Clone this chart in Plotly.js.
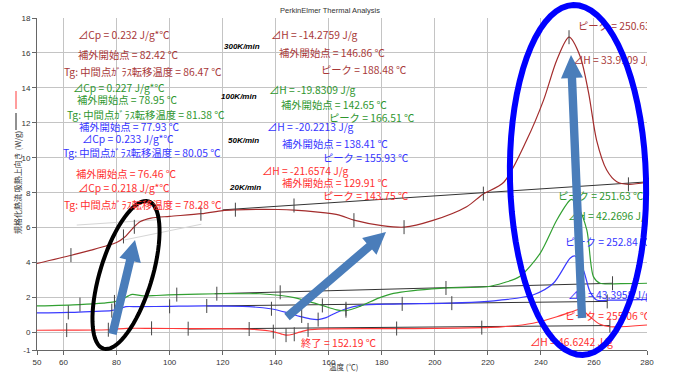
<!DOCTYPE html>
<html>
<head>
<meta charset="utf-8">
<script src="https://cdn.plot.ly/plotly-3.0.1.min.js"></script>
<style>html,body{margin:0;padding:0;background:#fff;}#chart{width:680px;height:373px;}</style>
</head>
<body>
<div id="chart"></div>
<script>
// ---------- data (temperature °C, normalized heat flow W/g) ----------
const brownT = [50, 63, 70, 76, 80, 83, 86, 89, 93, 100, 112, 120, 125, 135, 141, 147, 155, 164, 169.5, 180, 188.5, 199, 212, 218, 226, 234.6, 241, 246, 250.6, 254.8, 258, 261, 264.8, 268.6, 273, 280];
const brownV = [3.95, 4.42, 4.7, 4.95, 5.15, 5.45, 5.95, 6.35, 6.55, 6.65, 6.8, 6.98, 7.02, 7.05, 7.04, 7.0, 6.9, 6.72, 6.43, 6.12, 6.03, 6.4, 7.2, 7.9, 8.6, 11.0, 13.3, 15.6, 16.9, 15.8, 13.7, 11.0, 9.3, 8.63, 8.48, 8.6];
const greenT = [50, 66, 75, 79, 82, 84.5, 86, 90, 95, 103, 118, 130, 134, 142, 147, 152, 157.5, 163, 166.5, 171.8, 179, 184.4, 202, 219.6, 226, 232, 239.7, 246, 251, 251.6, 254, 257.3, 259.8, 262.3, 270, 280];
const greenV = [1.52, 1.6, 1.68, 1.75, 1.9, 2.1, 2.18, 2.1, 2.12, 2.17, 2.22, 2.22, 2.22, 2.12, 2.0, 1.8, 1.55, 1.3, 1.25, 1.5, 1.98, 2.24, 2.53, 2.62, 2.85, 3.2, 4.53, 6.44, 7.58, 7.62, 7.2, 5.87, 3.2, 2.82, 2.8, 2.82];
const blueT = [50, 62, 70, 78, 81, 83.5, 88, 100, 114, 130, 138, 144, 149, 153, 156, 159, 161, 163, 166.5, 172, 184, 206, 220, 224.6, 237, 244.7, 251, 252.8, 256, 258.5, 261, 266, 280];
const blueV = [1.12, 1.15, 1.2, 1.25, 1.35, 1.48, 1.48, 1.5, 1.52, 1.48, 1.36, 1.15, 0.92, 0.78, 0.74, 0.85, 1.0, 1.15, 1.36, 1.55, 1.63, 1.68, 1.78, 1.85, 2.15, 2.82, 4.25, 4.38, 3.58, 2.34, 1.86, 1.85, 1.9];
const redT = [50, 61, 77, 80, 84, 93, 107, 130, 136, 139, 142, 144, 146.5, 149, 152.2, 156, 186, 200, 217.7, 225, 237, 246, 253.5, 255, 258.5, 262.3, 266, 280];
const redV = [0.13, 0.14, 0.16, 0.2, 0.24, 0.24, 0.22, 0.2, 0.12, 0.05, -0.08, -0.15, -0.1, 0.02, 0.15, 0.2, 0.22, 0.24, 0.28, 0.32, 0.53, 0.9, 1.29, 1.35, 0.9, 0.47, 0.33, 0.43];

// baselines (black) and tangent lines (light gray)
const baseBrownT = [120, 280], baseBrownV = [7.02, 8.62];
const baseGreenT = [117, 267], baseGreenV = [2.22, 2.82];
const baseBlueT = [114, 265], baseBlueV = [1.52, 1.78];
const baseRedT = [107, 266], baseRedV = [0.2, 0.4];
const tanAT = [65, 95], tanAV = [6.15, 6.45];
const tanBT = [83, 112], tanBV = [5.3, 6.2];

// event markers
const mkBrownT = [62.8, 82.6, 86.7, 111.8, 124.8, 146.9, 169.5, 188.4, 218.3, 250.6, 273.0];
const mkBrownV = [4.43, 5.5, 6.05, 6.8, 7.03, 7.27, 6.43, 6.03, 7.95, 16.9, 8.48];
const mkGreenT = [66.2, 79.2, 102.7, 117.8, 141.7, 157.6, 166.5, 204.2, 267.0];
const mkGreenV = [1.6, 1.75, 2.17, 2.22, 2.3, 1.55, 1.25, 2.55, 2.82];
const mkBlueT = [61.8, 78.2, 100.0, 114.0, 138.4, 149.8, 156.0, 166.5, 187.7, 206.4, 265.0];
const mkBlueV = [1.15, 1.25, 1.5, 1.52, 1.36, 0.95, 0.74, 1.36, 1.64, 1.68, 1.78];
const mkRedT = [61.2, 76.9, 93.2, 107.0, 130.0, 139.1, 143.9, 147.0, 152.2, 185.6, 217.7, 266.0];
const mkRedV = [0.14, 0.16, 0.24, 0.22, 0.2, 0.05, -0.15, -0.1, 0.15, 0.23, 0.28, 0.4];

// tick labels
const xTicks = [50, 60, 80, 100, 120, 140, 160, 180, 200, 220, 240, 260, 280];
const yTicks = [-1, 0, 2, 4, 6, 8, 10, 12, 14, 16, 18];

// ---------- styling / geometry ----------
const C = {brown: '#a32c2c', green: '#32a032', blue: '#3a3aff', red: '#ff3838',
           tBrown: '#a83838', tGreen: '#2e962e', tBlue: '#3535ff', tRed: '#ff3030'};
const L = 37, R = 647, TOP = 18, BOT = 350;
const X0 = 50, X1 = 280, Y0 = -1, Y1 = 18;
const dx = px => X0 + (px - L) / (R - L) * (X1 - X0);
const dy = py => Y1 - (py - TOP) / (BOT - TOP) * (Y1 - Y0);
const paperX = px => (px - L) / (R - L);
const paperY = py => (BOT - py) / (BOT - TOP);
const JP = '"Noto Sans CJK JP", "Noto Sans", sans-serif';
const FS = 10.3;

const traces = [];
function line(x, y, color, width, spline) {
  traces.push({x, y, type: 'scatter', mode: 'lines', hoverinfo: 'skip',
    line: {color, width, shape: spline ? 'spline' : 'linear', smoothing: 0.8}});
}
line(tanAT, tanAV, '#d6d6d6', 1, false);
line(tanBT, tanBV, '#d6d6d6', 1, false);
line(baseRedT, baseRedV, '#333', 1, false);
line(baseBlueT, baseBlueV, '#333', 1, false);
line(baseGreenT, baseGreenV, '#333', 1, false);
line(baseBrownT, baseBrownV, '#333', 1, false);
line(redT, redV, C.red, 1.2, true);
line(blueT, blueV, C.blue, 1.2, true);
line(greenT, greenV, C.green, 1.2, true);
line(brownT, brownV, C.brown, 1.2, true);
[[mkBrownT, mkBrownV], [mkGreenT, mkGreenV], [mkBlueT, mkBlueV], [mkRedT, mkRedV]].forEach(([x, y]) => {
  traces.push({x, y, type: 'scatter', mode: 'markers', hoverinfo: 'skip',
    marker: {symbol: 'line-ns-open', size: 10, color: '#444', line: {color: '#444', width: 1}}});
});

// clipped labels at the right edge (drawn as text inside the plot so they are clipped)
const edgeLabels = [
  ['ピーク = 250.63 ℃', 578, 27, C.tBrown],
  ['⊿H = 33.9109 J/g', 573, 61, C.tBrown],
  ['ピーク = 251.63 ℃', 558, 197, C.tGreen],
  ['⊿H = 42.2696 J/g', 568, 217, C.tGreen],
  ['ピーク = 252.84 ℃', 565, 243, C.tBlue],
  ['⊿H = 43.3958 J/g', 568, 296, C.tBlue],
  ['ピーク = 255.06 ℃', 565, 317, C.tRed],
  ['⊿H = 46.6242 J/g', 530, 343, C.tRed]
];
edgeLabels.forEach(([t, px, py, col]) => {
  traces.push({x: [dx(px)], y: [dy(py)], text: [t], type: 'scatter', mode: 'text',
    textposition: 'middle right', cliponaxis: true, hoverinfo: 'skip',
    textfont: {family: JP, size: FS, color: col}});
});

// annotations (left anchored, pixel positions converted to paper coords)
const labels = [
  ['⊿Cp = 0.232 J/g*℃', 77, 35, C.tBrown],
  ['補外開始点 = 82.42 ℃', 77, 54, C.tBrown],
  ['Tg: 中間点ｶﾞﾗｽ転移温度 = 86.47 ℃', 63, 71, C.tBrown],
  ['⊿H = -14.2759 J/g', 270, 35, C.tBrown],
  ['補外開始点 = 146.86 ℃', 278, 52, C.tBrown],
  ['ピーク = 188.48 ℃', 320, 70, C.tBrown],
  ['⊿Cp = 0.227 J/g*℃', 72, 87, C.tGreen],
  ['補外開始点 = 78.95 ℃', 76, 99, C.tGreen],
  ['Tg: 中間点ｶﾞﾗｽ転移温度 = 81.38 ℃', 66, 114, C.tGreen],
  ['⊿H = -19.8309 J/g', 268, 89, C.tGreen],
  ['補外開始点 = 142.65 ℃', 280, 104, C.tGreen],
  ['ピーク = 166.51 ℃', 328, 118, C.tGreen],
  ['補外開始点 = 77.93 ℃', 78, 127, C.tBlue],
  ['⊿Cp = 0.233 J/g*℃', 81, 138, C.tBlue],
  ['Tg: 中間点ｶﾞﾗｽ転移温度 = 80.05 ℃', 62, 152, C.tBlue],
  ['⊿H = -20.2213 J/g', 266, 127, C.tBlue],
  ['補外開始点 = 138.41 ℃', 281, 143, C.tBlue],
  ['ピーク = 155.93 ℃', 322, 157, C.tBlue],
  ['補外開始点 = 76.46 ℃', 75, 173, C.tRed],
  ['⊿Cp = 0.218 J/g*℃', 77, 187, C.tRed],
  ['Tg: 中間点ｶﾞﾗｽ転移温度 = 78.28 ℃', 63, 204, C.tRed],
  ['⊿H = -21.6574 J/g', 261, 170, C.tRed],
  ['補外開始点 = 129.91 ℃', 281, 182, C.tRed],
  ['ピーク = 143.75 ℃', 322, 195, C.tRed],
  ['終了 = 152.19 ℃', 300, 342, C.tRed]
];
const rates = [['300K/min', 223, 47], ['100K/min', 220, 96], ['50K/min', 227, 140], ['20K/min', 228, 187]];

const annotations = [];
labels.forEach(([t, px, py, col]) => annotations.push({text: t, xref: 'paper', yref: 'paper',
  x: paperX(px), y: paperY(py), xanchor: 'left', yanchor: 'middle', showarrow: false, borderpad: 0,
  font: {family: JP, size: FS, color: col}}));
rates.forEach(([t, px, py]) => annotations.push({text: '<b><i>' + t + '</i></b>', xref: 'paper', yref: 'paper',
  x: paperX(px), y: paperY(py), xanchor: 'left', yanchor: 'middle', showarrow: false, borderpad: 0,
  font: {family: 'Liberation Sans, Arial, sans-serif', size: 8, color: '#000'}}));
annotations.push({text: 'PerkinElmer Thermal Analysis', xref: 'paper', yref: 'paper', x: paperX(330), y: paperY(11),
  xanchor: 'center', yanchor: 'middle', showarrow: false, font: {family: 'Liberation Sans, Arial, sans-serif', size: 7.5, color: '#333'}});
annotations.push({text: '温度 (℃)', xref: 'paper', yref: 'paper', x: paperX(343), y: paperY(366.5),
  xanchor: 'center', yanchor: 'middle', showarrow: false, borderpad: 0, font: {family: JP, size: 7.5, color: '#333'}});
annotations.push({text: '規格化熱流 吸熱上向き (W/g)', xref: 'paper', yref: 'paper', x: paperX(17), y: paperY(183),
  xanchor: 'center', yanchor: 'middle', textangle: -90, showarrow: false, font: {family: JP, size: 8, color: '#333'}});

// shapes: arrows, ellipses, y-title legend strokes
function toPath(pts, close) {
  return pts.map((p, i) => (i ? 'L' : 'M') + paperX(p[0]).toFixed(5) + ',' + paperY(p[1]).toFixed(5)).join(' ') + (close ? ' Z' : '');
}
function arrow(x0, y0, x1, y1, sw, hl, hw) {
  const len = Math.hypot(x1 - x0, y1 - y0), ux = (x1 - x0) / len, uy = (y1 - y0) / len, nx = -uy, ny = ux;
  const bx = x1 - ux * hl, by = y1 - uy * hl;
  const pts = [[x0 + nx * sw, y0 + ny * sw], [bx + nx * sw, by + ny * sw], [bx + nx * hw, by + ny * hw], [x1, y1],
               [bx - nx * hw, by - ny * hw], [bx - nx * sw, by - ny * sw], [x0 - nx * sw, y0 - ny * sw]];
  return {type: 'path', xref: 'paper', yref: 'paper', layer: 'above', path: toPath(pts, true),
          fillcolor: '#4a7dba', line: {width: 0}};
}
function ellipse(cx, cy, rx, ry, angDeg, color, width) {
  const a = angDeg * Math.PI / 180, pts = [];
  for (let i = 0; i <= 72; i++) {
    const t = i / 72 * 2 * Math.PI, ex = rx * Math.cos(t), ey = ry * Math.sin(t);
    pts.push([cx + ex * Math.cos(a) - ey * Math.sin(a), cy + ex * Math.sin(a) + ey * Math.cos(a)]);
  }
  return {type: 'path', xref: 'paper', yref: 'paper', layer: 'above', path: toPath(pts, true),
          fillcolor: 'rgba(0,0,0,0)', line: {color, width}};
}
const shapes = [
  ellipse(126, 275, 26, 77, 17, '#000', 4),
  ellipse(578, 180, 68, 175, -1.5, '#0000ff', 6),
  arrow(112.5, 334, 135, 240, 4.2, 21, 11),
  arrow(287, 317, 386, 232, 4.2, 22, 11),
  arrow(582, 318, 571, 55, 4.2, 23, 11),
  {type: 'line', xref: 'paper', yref: 'paper', x0: paperX(16), x1: paperX(16), y0: paperY(91), y1: paperY(109), line: {color: '#ff3b3b', width: 1}},
  {type: 'line', xref: 'paper', yref: 'paper', x0: paperX(16), x1: paperX(16), y0: paperY(113), y1: paperY(130), line: {color: '#222', width: 1}}
];

const axisFont = {family: 'Liberation Sans, Arial, sans-serif', size: 8, color: '#333'};
const layout = {
  width: 680, height: 373,
  margin: {l: L, r: 680 - R, t: TOP, b: 373 - BOT, pad: 0},
  paper_bgcolor: '#fff', plot_bgcolor: '#fff',
  showlegend: false,
  xaxis: {range: [X0, X1], tickvals: xTicks, ticktext: xTicks.map(String), ticks: 'outside', ticklen: 4,
          tickcolor: '#666', showline: true, linecolor: '#666', linewidth: 1, showgrid: true,
          gridcolor: '#c4c4c4', gridwidth: 1, zeroline: false, tickfont: axisFont, fixedrange: true},
  yaxis: {range: [Y0, Y1], tickvals: yTicks, ticktext: yTicks.map(String), ticks: 'outside', ticklen: 4,
          tickcolor: '#666', showline: true, linecolor: '#666', linewidth: 1, showgrid: true,
          gridcolor: '#c4c4c4', gridwidth: 1, zeroline: false, tickfont: axisFont, fixedrange: true},
  annotations, shapes
};
Plotly.newPlot('chart', traces, layout, {displayModeBar: false, staticPlot: true});
</script>
</body>
</html>
